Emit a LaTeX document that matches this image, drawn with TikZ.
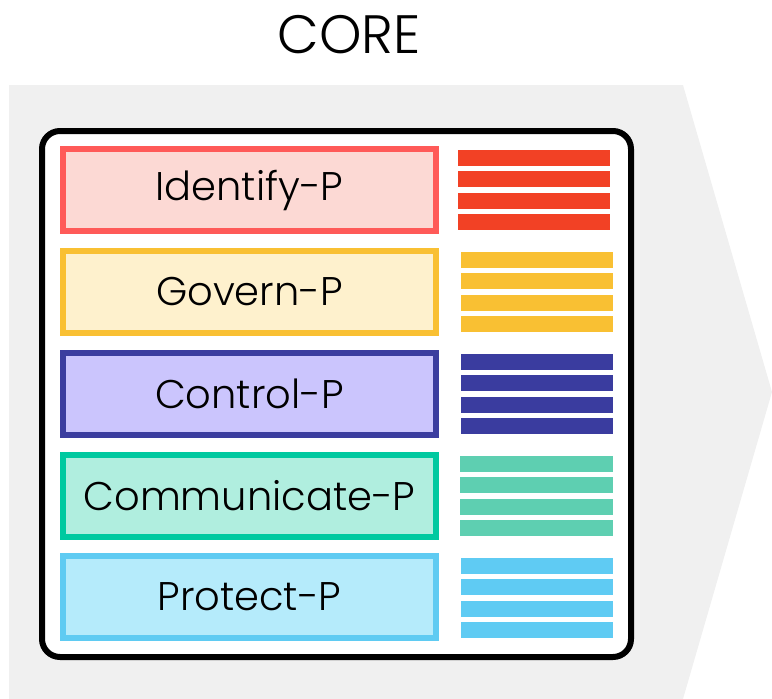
\documentclass[tikz,border=0pt]{standalone}
\usepackage{fontspec}
\setmainfont{Poppins}[UprightFont=* Light]
\usepackage{tikz}
\definecolor{coregray}{HTML}{F0F0F0}
\definecolor{idline}{HTML}{FF5A58}
\definecolor{idfill}{HTML}{FCD9D4}
\definecolor{idbar}{HTML}{F24125}
\definecolor{goline}{HTML}{F9C033}
\definecolor{gofill}{HTML}{FEF1CD}
\definecolor{gobar}{HTML}{F9C033}
\definecolor{ctline}{HTML}{3B3D9F}
\definecolor{ctfill}{HTML}{CBC5FD}
\definecolor{ctbar}{HTML}{3A3C9F}
\definecolor{cmline}{HTML}{00C9A0}
\definecolor{cmfill}{HTML}{B0EEDF}
\definecolor{cmbar}{HTML}{5ECFB1}
\definecolor{prline}{HTML}{5FCBF2}
\definecolor{prfill}{HTML}{B5EBFB}
\definecolor{prbar}{HTML}{5FCBF3}
\tikzset{
    layer/.style ={
        shape=rectangle,
        line width=6pt,
        minimum width=373pt,
        minimum height=82pt,
        inner sep=0pt,
        text=black,
        font=\fontsize{40}{46}\selectfont
    },
    identifybox/.style ={layer, draw=idline, fill=idfill},
    governbox/.style ={layer, draw=goline, fill=gofill},
    controlbox/.style ={layer, draw=ctline, fill=ctfill},
    communicatebox/.style ={layer, draw=cmline, fill=cmfill},
    protectbox/.style ={layer, draw=prline, fill=prfill}
}

\begin{document}
\begin{tikzpicture}[x=1pt,y=-1pt]
    \useasboundingbox (0,0) rectangle (772,699);
    % grey arrow behind the frame
    \fill[coregray] (9,85) -- (683,85) -- (772,392) -- (683,699) -- (9,699) -- cycle;
    \node[font=\fontsize{54}{60}\selectfont] (core) at (349,35) {CORE};
    \draw[line width=6pt, fill=white, rounded corners=18pt] (42,131) rectangle (631,657);
    \node[identifybox] (identify) at (249.5,190) {Identify-P};
    \node[governbox] (govern) at (249.5,292) {Govern-P};
    \node[controlbox] (control) at (249.5,394) {Control-P};
    \node[communicatebox] (communicate) at (249.5,496) {Communicate-P};
    \node[protectbox] (protect) at (249.5,597) {Protect-P};
    % bars
    \foreach \dy in {0,21,43,64}{
        \fill[idbar] (458,150+\dy) rectangle (610,166+\dy);
        \fill[gobar] (461,252+\dy) rectangle (613,268+\dy);
        \fill[ctbar] (461,354+\dy) rectangle (613,370+\dy);
        \fill[cmbar] (460,456+\dy) rectangle (613,472+\dy);
        \fill[prbar] (461,558+\dy) rectangle (613,574+\dy);
    }
\end{tikzpicture}
\end{document}
